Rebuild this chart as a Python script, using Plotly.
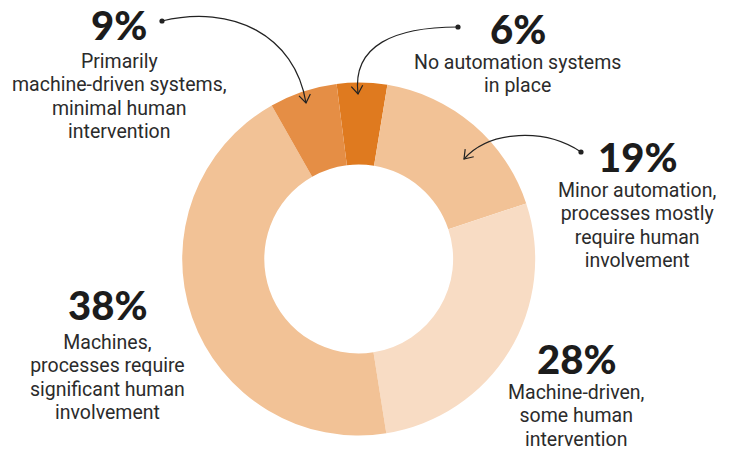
import math
import plotly.graph_objects as go

W, H = 734, 455

segments = ["No automation systems in place",
            "Minor automation, processes mostly require human involvement",
            "Machine-driven, some human intervention",
            "Machines, processes require significant human involvement",
            "Primarily machine-driven systems, minimal human intervention"]
arc_share = [4.6, 17.3, 27.6, 44.3, 6.2]
label_pct = ["6%", "19%", "28%", "38%", "9%"]
label_lines = [["No automation systems", "in place"],
               ["Minor automation,", "processes mostly", "require human", "involvement"],
               ["Machine-driven,", "some human", "intervention"],
               ["Machines,", "processes require", "significant human", "involvement"],
               ["Primarily", "machine-driven systems,", "minimal human", "intervention"]]
colors = ["#DF7A1F", "#F2C296", "#F8DCC4", "#F2C296", "#E58E45"]

def px(x):
    return x / W

def py(y):
    return 1 - y / H

cx, cy, r = 358.7, 259, 176.5
fig = go.Figure(go.Pie(
    labels=segments, values=arc_share, sort=False, direction="clockwise",
    rotation=-7.2, hole=0.535, textinfo="none", hoverinfo="label+percent",
    marker=dict(colors=colors, line=dict(width=0)),
    domain=dict(x=[px(cx - r), px(cx + r)], y=[py(cy + r), py(cy - r)]),
    showlegend=False,
))

# label layout (pixel): center x, number baseline, last text-line baseline
label_x = [517.5, 637, 576, 107.5, 119]
num_base = [45, 173, 375.5, 321, 41]
last_base = [93, 267.5, 447, 420, 139]

body_style = "font-size:19.5px"

ann = []
for x, nb, lb, pct, lines in zip(label_x, num_base, last_base, label_pct, label_lines):
    ann.append(dict(x=px(x), y=py(nb + 9.5), xref="paper", yref="paper", text=pct,
                    showarrow=False, xanchor="center", yanchor="bottom",
                    font=dict(family="Lato", size=40, color="#1c1c1c", weight=900)))
    text = "<br>".join('<span style="{}">{}</span>'.format(body_style, l) for l in lines)
    ann.append(dict(x=px(x), y=py(lb + 6.3), xref="paper", yref="paper", text=text,
                    showarrow=False, xanchor="center", yanchor="bottom", align="center",
                    font=dict(family="Roboto", size=18, color="#2b2b2b")))

shapes = []
ink = "#222222"

def curve(p0, c1, c2, p3):
    path = "M {},{} C {},{} {},{} {},{}".format(
        px(p0[0]), py(p0[1]), px(c1[0]), py(c1[1]),
        px(c2[0]), py(c2[1]), px(p3[0]), py(p3[1]))
    shapes.append(dict(type="path", xref="paper", yref="paper", path=path,
                       line=dict(color=ink, width=1.2)))
    d = 2.6
    shapes.append(dict(type="circle", xref="paper", yref="paper",
                       x0=px(p0[0] - d), x1=px(p0[0] + d),
                       y0=py(p0[1] + d), y1=py(p0[1] - d),
                       fillcolor=ink, line=dict(width=0)))
    dx, dy = p3[0] - c2[0], p3[1] - c2[1]
    n = math.hypot(dx, dy)
    ux, uy = dx / n, dy / n
    L = 10
    pts = []
    for a in (math.radians(35), -math.radians(35)):
        bx = -(ux * math.cos(a) - uy * math.sin(a)) * L
        by = -(ux * math.sin(a) + uy * math.cos(a)) * L
        pts.append((p3[0] + bx, p3[1] + by))
    hp = "M {},{} L {},{} L {},{}".format(px(pts[0][0]), py(pts[0][1]),
                                          px(p3[0]), py(p3[1]),
                                          px(pts[1][0]), py(pts[1][1]))
    shapes.append(dict(type="path", xref="paper", yref="paper", path=hp,
                       line=dict(color=ink, width=1.2)))

curve((162, 21), (232, 4), (295, 35), (306, 103))
curve((458, 27), (395, 27), (352, 45), (358, 94))
curve((581, 152), (545, 128), (490, 130), (464, 159))

fig.update_layout(width=W, height=H, margin=dict(l=0, r=0, t=0, b=0),
                  paper_bgcolor="white", plot_bgcolor="white",
                  annotations=ann, shapes=shapes)
fig.write_html("out.html")
